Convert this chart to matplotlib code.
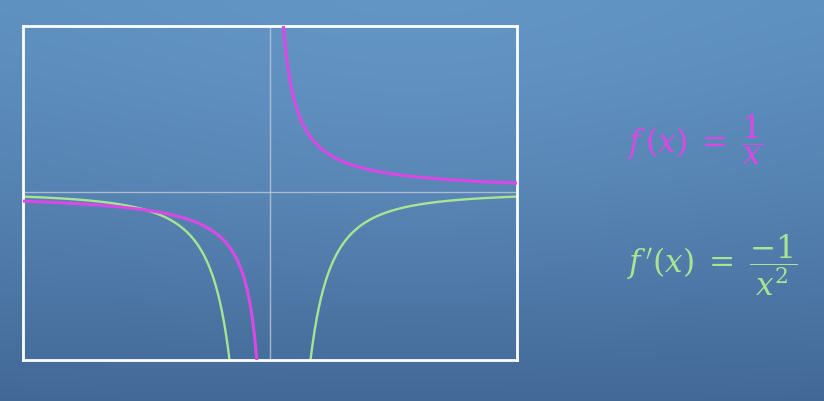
import numpy as np
import matplotlib.pyplot as plt

# plotted range of the graph
x_left = -2.0
x_right = 2.0
y_bottom = -9.3
y_top = 9.2

# sample points for each branch (gap at the asymptote x = 0)
x_neg = np.linspace(x_left, -0.01, 600)
x_pos = np.linspace(0.01, x_right, 600)

f_label = r"$f\,(x)\;=\;\dfrac{1}{x}$"
df_label = r"$f\,'(x)\;=\;\dfrac{-1}{x^2}$"

magenta = "#dc48e6"
green = "#a9e493"

plt.rcParams["mathtext.fontset"] = "dejavuserif"

fig = plt.figure(figsize=(8.24, 4.02), dpi=100)

# background gradient over the whole slide
bg = fig.add_axes([0, 0, 1, 1])
yy, xx = np.mgrid[0:1:200j, 0:1:400j]
top = np.array([92, 142, 190]) / 255
bottom = np.array([66, 104, 150]) / 255
t = (yy ** 1.3)[..., None]
img = top * (1 - t) + bottom * t
# a bit lighter toward the upper middle
glow = np.exp(-((xx - 0.5) ** 2 / 0.25 + (yy - 0.25) ** 2 / 0.3))[..., None]
img = np.clip(img + 0.03 * glow, 0, 1)
bg.imshow(img, aspect="auto", extent=[0, 1, 0, 1], origin="upper")
bg.set_axis_off()

ax = fig.add_axes([23 / 824, 41 / 402, 494 / 824, 334 / 402])
ax.set_facecolor("none")
ax.set_xlim(x_left, x_right)
ax.set_ylim(y_bottom, y_top)

ax.axhline(0, color="#c0cad6", lw=1.0, alpha=0.8, zorder=1)
ax.axvline(0, color="#c0cad6", lw=1.0, alpha=0.8, zorder=1)

ax.plot(x_neg, -1 / x_neg ** 2, color=green, lw=1.7, zorder=2)
ax.plot(x_pos, -1 / x_pos ** 2, color=green, lw=1.7, zorder=2)
ax.plot(x_neg, 1 / x_neg, color=magenta, lw=2.2, zorder=3)
ax.plot(x_pos, 1 / x_pos, color=magenta, lw=2.2, zorder=3)

ax.set_xticks([])
ax.set_yticks([])
for s in ax.spines.values():
    s.set_color("white")
    s.set_linewidth(2.0)

fig.text(627 / 824, 1 - 153 / 402, f_label, color=magenta, fontsize=22.5,
         ha="left", va="baseline")
fig.text(627 / 824, 1 - 273 / 402, df_label, color=green, fontsize=22.5,
         ha="left", va="baseline")

fig.savefig("out.png", dpi=100)
